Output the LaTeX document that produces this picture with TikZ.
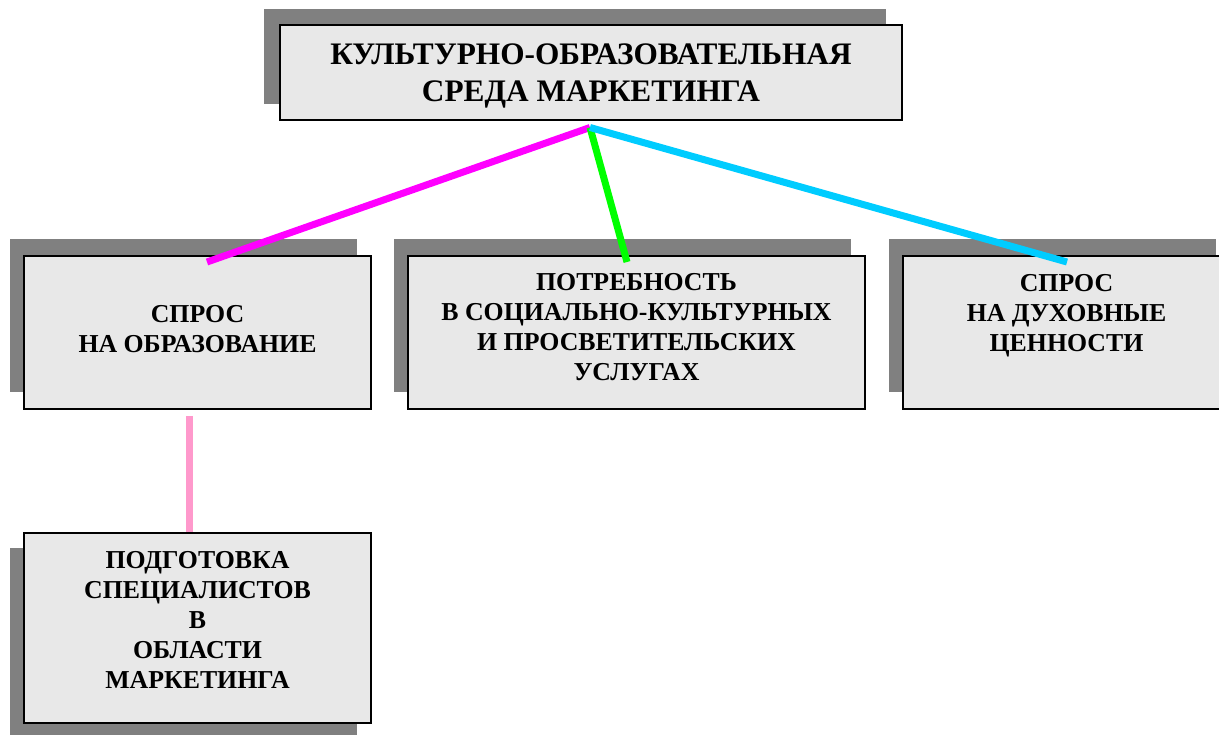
\documentclass[tikz,border=0pt]{standalone}
\usepackage{fontspec}
\setmainfont{Liberation Serif}
\usetikzlibrary{shadows,calc}

\definecolor{shade}{HTML}{808080}
\definecolor{boxfill}{HTML}{E8E8E8}
\definecolor{linkmagenta}{HTML}{FF00FF}
\definecolor{linkgreen}{HTML}{00FF00}
\definecolor{linkcyan}{HTML}{00CCFF}
\definecolor{linkpink}{HTML}{FF99CC}

\tikzset{
  box/.style={draw=black, line width=1.8pt, fill=boxfill, inner sep=0pt},
  shadowUL/.style={drop shadow={shadow xshift=#1, shadow yshift=17pt, fill=shade, opacity=1}},
  % text blocks are placed by the baseline of their last line
  boxtext/.style={font=\bfseries\fontsize{25.8pt}{30pt}\selectfont, align=center, inner sep=0pt, anchor=base},
  titletext/.style={font=\bfseries\fontsize{31.3pt}{37pt}\selectfont, align=center, inner sep=0pt, anchor=base},
  link/.style={line width=7pt, line cap=butt},
}

\begin{document}
\begin{tikzpicture}[x=1pt,y=-1pt]
\useasboundingbox (0,0) rectangle (1219,735);
\clip (0,0) rectangle (1219,735);

% title box
\node[box, minimum width=622pt, minimum height=95pt,
      drop shadow={shadow xshift=-16pt, shadow yshift=15.5pt, fill=shade, opacity=1}]
      (title) at (591,72.5) {};
\node[titletext] (titleT) at (591,102) {КУЛЬТУРНО-ОБРАЗОВАТЕЛЬНАЯ\\СРЕДА МАРКЕТИНГА};

% second row
\node[box, minimum width=347pt, minimum height=153pt, shadowUL=-14.5pt]
      (edu) at (197.5,332.5) {};
\node[box, minimum width=457pt, minimum height=153pt, shadowUL=-14.5pt]
      (need) at (636.5,332.5) {};
\node[box, minimum width=327pt, minimum height=153pt, shadowUL=-14.5pt]
      (spirit) at (1066.5,332.5) {};

\node[boxtext] (eduT) at (edu.center |- 0,352.7) {СПРОС\\НА ОБРАЗОВАНИЕ};
\node[boxtext] (needT) at (need.center |- 0,381)
      {ПОТРЕБНОСТЬ\\В СОЦИАЛЬНО-КУЛЬТУРНЫХ\\И ПРОСВЕТИТЕЛЬСКИХ\\УСЛУГАХ};
\node[boxtext] (spiritT) at (spirit.center |- 0,351.7) {СПРОС\\НА ДУХОВНЫЕ\\ЦЕННОСТИ};

% third level
\node[box, minimum width=347pt, minimum height=190pt,
      drop shadow={shadow xshift=-14.5pt, shadow yshift=-14.5pt, fill=shade, opacity=1}]
      (train) at (197.5,628) {};
\node[boxtext] (trainT) at (train.center |- 0,688)
      {ПОДГОТОВКА\\СПЕЦИАЛИСТОВ\\В\\ОБЛАСТИ\\МАРКЕТИНГА};

% connectors
\coordinate (hub) at (590,127.5);
\coordinate (eduEnd) at (207,262);
\coordinate (needEnd) at (627,262);
\coordinate (spiritEnd) at (1067,262);
\coordinate (trainStart) at (189,416);

\draw[link, linkmagenta] (hub) -- (eduEnd);
\draw[link, linkgreen] (hub) -- (needEnd);
\draw[link, linkcyan] (hub) -- (spiritEnd);
\draw[link, linkpink] (trainStart) -- (trainStart |- train.north);
\end{tikzpicture}
\end{document}
